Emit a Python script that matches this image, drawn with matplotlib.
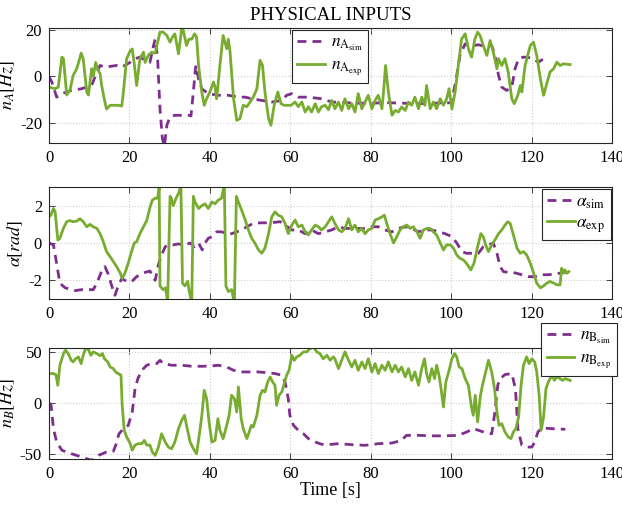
import matplotlib
matplotlib.use("Agg")
import matplotlib.pyplot as plt

plt.rcParams['font.family'] = ['Liberation Serif', 'DejaVu Serif']
plt.rcParams['mathtext.fontset'] = 'stix'
plt.rcParams['axes.unicode_minus'] = False

# ---- panel 1: n_A [Hz] ----
t_nA_sim = [0, 0.7, 1.9, 3.2, 5.6, 8.1, 10.6, 11.9, 12.7, 13.9, 16.8, 17.7, 18.9, 20.2, 21.4,
            22.6, 23.9, 25.1, 26.0, 26.4, 27.0, 27.6, 28.2, 28.7, 29.3, 30.1, 31.3, 33.0, 34.7,
            35.3, 35.9, 36.5, 37.2, 38.0, 39.6, 42.1, 44.6, 47.1, 48.8, 50.4, 52.9, 55.4, 57.9,
            59.1, 60.4, 62.0, 64.5, 67.8, 70.3, 73, 76, 80, 84, 88, 92, 96, 100.2, 100.6, 101.4,
            102.2, 103.5, 104.7, 106.8, 108.5, 110.1, 110.9, 111.8, 112.6, 113.8, 115.1, 115.9,
            116.8, 118.0, 120.1, 121.7, 123.0]
nA_sim = [0, -2.4, -8.9, -7.4, -6, -5.3, -3.9, 1.9, 4.7, 4, 4.7, 4, 4.7, 6.1, 7.6,
          8.3, 6.9, 6.1, 13.3, 16, 8, -14, -26.7, -30, -21, -17.4, -16.7, -16.7, -16.7,
          -17, -6.7, 4.7, -1, -5.3, -7.4, -8.1, -8.1, -8.9, -8.9, -9.6, -10.3, -11, -10.3,
          -8.1, -7.4, -8.9, -8.9, -9.6, -11, -11.2, -11.5, -11.5, -11.3, -11.5, -11.7, -11.5, -11.3, -7, 0.4,
          9, 14, 13, 13.6, 12.9, 13.3, 9, 0.4, -4.6, -6, -4.6, 3.3,
          7.6, 8.3, 8, 6.1, 7.6]

t_nA_exp = [0, 1.5, 2.3, 3.2, 3.6, 4.4, 5.2, 6, 6.9, 8, 8.5, 9.4, 9.8, 10.6, 11, 11.6, 12.1, 12.7,
            13.1, 13.9, 14.3, 15.2, 16, 17.2, 18.1, 18.5, 19.3, 20.2, 20.7, 21.2, 21.8, 22.6, 23.5,
            23.9, 24.7, 25.5, 26.4, 26.8, 27.6, 28.4, 29.3, 30.1, 30.7, 31.3, 32.2, 33, 33.4, 34.2,
            34.8, 35.5, 36.2, 36.7, 37.2, 38, 38.6, 39.2, 40, 40.9, 41.3, 41.7, 42.5, 43.3, 44.2,
            44.6, 45, 45.9, 46.7, 47.5, 48.3, 49.2, 50, 50.8, 51.7, 52.5, 53.1, 53.7, 54.6, 55.2,
            56, 56.9, 57.7, 58.5, 59.4, 60.2, 61.2, 62, 62.9, 63.7, 64.5, 65.3, 66.2, 67, 67.8,
            68.7, 69.5, 70.3, 71.1, 72, 72.8, 73.6, 74.5, 75.3, 76.1, 76.9, 77.8, 78.6, 79.4, 80.3,
            81.1, 81.9, 82.8, 83.2, 83.7, 84.4, 85.3, 86.1, 86.9, 87.7, 88.6, 89.4, 90.2, 91, 91.9,
            92.7, 93.5, 93.9, 94.8, 95.6, 96.4, 97.3, 98.1, 98.9, 99.5, 100.2, 101, 101.8, 102.6,
            103.5, 104.3, 105.1, 105.9, 106.6, 107.2, 108, 108.9, 109.7, 110.5, 111.4, 111.8, 112.6,
            113.4, 114.2, 115.1, 115.7, 116.6, 117.2, 117.6, 118.4, 119.7, 120.5, 121.3, 122.2, 123,
            123.8, 124.6, 125.5, 126.3, 127.1, 127.9, 129.6]
nA_exp = [-4.6, -5.3, -4.6, 8.3, 7.6, -8, -6, 0.4, 3.3, 10, 7.6, -6.7, -8, 3.3, 0, 6, 3.3, 1.1,
          -4, -11, -14, -12.4, -12.4, -12.4, -12.7, -6.7, 7.6, 11, 11.8, 5.4, -3.9, 7.6, 10.4,
          6, 9, 10.4, 10, 13, 19, 19, 17.6, 14.7, 16.9, 18.3, 9.7, 20.4, 19.7, 13.3,
          16, 16, 18.3, 16.9, 4.7, -6.7, -12.4, -9.6, -6.7, -2.4, -4.6, -9.6, 4.7, 17.6, 11.9,
          16, 11, -9.6, -18.9, -18.1, -12.4, -13, -11, -8.9, -5.3, 6.9, 4.7, -6.7, -18.1, -21,
          -12.4, -6.7, -11.7, -12.4, -12.4, -12.4, -11, -13, -11, -15.3, -13, -15.3, -11.7, -15.3, -13,
          -12.4, -14.3, -10.3, -13.9, -11, -14.6, -9.6, -13.9, -11.7, -15.3, -7.4, -13.9, -11, -8.1, -13.9,
          -10.3, -8.1, -13.9, -6.7, 4.7, -6.7, -16.7, -14.6, -15.3, -13.1, -14.6, -11, -12.4, -8.9, -13.9,
          -8.9, -12.4, -3.9, -13.9, -11, -13.9, -9.6, -12.4, -9.6, -5.3, -14, -6.7, 4.7, 16,
          18.3, 11.9, 8.3, 16, 19, 17.6, 13.3, 9, 15.4, 10.4, 3.3, 7.6, 4.7,
          7.6, 1.9, -9.6, -11.7, -8.1, -3.9, -6.7, 4.7, 13.3, 14.7, 9, -1, -8.1,
          -3.1, 1.9, 3.3, 6.1, 4.7, 5.4, 5.1]

# ---- panel 2: alpha [rad] ----
t_al_sim = [0, 1.1, 1.9, 2.7, 4, 6.5, 8.1, 9.8, 11, 11.9, 13.1, 13.9, 14.8, 15.6, 16.4, 17.2, 18.1,
            19.3, 20.6, 21.8, 23.5, 25.1, 26.4, 27.2, 28, 28.9, 29.7, 30.9, 32.2, 33.8, 35.1, 36.2,
            37.2, 38.1, 38.8, 39.6, 40.5, 41.7, 42.9, 44.2, 45.4, 46.7, 47.9, 49.2, 50.8, 52.5, 54.2,
            55.8, 57.5, 58.7, 60.4, 62, 63.7, 65.3, 67, 68.7, 70.3, 72, 73.6, 75.3, 76.9, 78.6, 80.3,
            81.9, 83.5, 85.3, 86.9, 88.6, 90.2, 91.9, 93.5, 95.2, 96.9, 98.5, 100.2, 101.4, 102.7,
            103.8, 105.5, 106.8, 108, 109.3, 110.5, 111.4, 112.2, 113, 114.3, 115.9, 117.6, 119.2,
            120.9, 122.6, 124.2, 125.9, 127.5, 129.2]
al_sim = [0, -0.1, -1.1, -2.15, -2.4, -2.55, -2.5, -2.5, -2.5, -2.15, -1.5, -1.26, -1.7, -2.3, -2.8, -2.3, -1.9,
          -2.06, -2.06, -1.8, -1.6, -1.5, -2.0, -1.17, -0.64, -0.2, -0.1, -0.1, -0.05, -0.1, 0, -0.2,
          0, -0.37, 0, 0.25, 0.34, 0.6, 0.6, 0.5, 0.5, 0.6, 0.7, 0.87, 1.05, 1.08, 1.08,
          1.1, 1.14, 0.96, 0.7, 0.7, 0.5, 0.7, 0.5, 0.6, 0.7, 0.87, 0.78, 0.78, 0.78, 0.78, 0.87,
          0.87, 0.7, 0.6, 0.78, 0.87, 0.78, 0.6, 0.7, 0.7, 0.6, 0.5, 0.34, 0, -0.46,
          -0.55, -0.55, -0.55, -0.2, -0.1, 0, -0.55, -1.26, -1.53, -1.58, -1.6, -1.7, -1.8,
          -1.8, -1.7, -1.7, -1.65, -1.6, -1.55]

t_al_exp = [0, 0.5, 1.1, 1.5, 2.2, 2.7, 3.6, 4.4, 5.2, 6, 6.9, 7.7, 8.5, 9.4, 10.2, 11, 11.9, 12.7,
            13.5, 14.3, 15.2, 16, 16.8, 17.7, 18.2, 18.9, 19.7, 20.4, 21.2, 21.8, 22.6, 23.5, 24.3,
            25.1, 25.7, 26.4, 27, 27.4, 27.6, 28.4, 29, 29.5, 30.1, 30.4, 30.9, 31.6, 32.3, 32.8,
            33.2, 33.8, 34.5, 34.8, 35.5, 35.9, 36.3, 37.2, 38, 38.8, 39.6, 40.5, 41.3, 42.1, 42.9,
            43.6, 44, 44.6, 45.4, 46.1, 46.6, 47.1, 47.9, 48.8, 49.6, 50.4, 51.2, 52.1, 52.9, 53.7,
            54.6, 55.4, 56.2, 57, 57.9, 58.7, 59.5, 60.4, 61.2, 62, 62.9, 63.7, 64.5, 65.3, 66.2,
            67, 67.8, 68.7, 69.5, 70.3, 71.1, 72, 72.8, 73.6, 74.5, 75.3, 76.1, 76.9, 77.8, 78.6,
            79.4, 80.3, 81.1, 81.9, 82.8, 83.4, 84, 84.8, 85.7, 86.5, 87.3, 88.1, 89, 89.8, 90.6,
            91.5, 92.3, 93.1, 94, 94.8, 95.6, 96.4, 97.3, 98.1, 98.9, 99.8, 100.6, 101.4, 102.2,
            103, 103.8, 104.9, 105.7, 106.6, 107.4, 108, 108.6, 109.3, 110.1, 110.9, 111.8, 112.6,
            113.4, 114.1, 114.7, 115.5, 116.4, 117.2, 118, 118.8, 119.7, 120.5, 121.3, 122.2, 123,
            123.8, 124.6, 125.5, 126.3, 127.1, 127.5, 127.9, 128.3, 128.8, 129.3]
al_exp = [1.4, 1.5, 1.85, 1.7, 0.16, 0.25, 0.8, 1.14, 1.2, 1.14, 1.17, 1.3, 1.14, 0.87, 1.0, 0.87, 0.78, 0.5,
          0.07, -0.46, -0.73, -1.0, -1.26, -1.6, -1.9, -1.6, -1.08, -0.55, 0, 0.07, 0.5, 0.87, 1.2,
          1.9, 2.3, 2.4, 2.4, 2.95, -2.3, -2.5, -2.4, -3.2, 2.5, 2.4, 2.0, 2.4, 2.7, 3.1,
          -2.15, -2.3, -2.05, -2.5, -3.2, 2.5, 2.2, 1.85, 2.0, 2.1, 1.85, 2.2, 2.1, 2.3, 2.4,
          3.1, -2.3, -2.6, -2.5, -3.2, 2.5, 2.2, 1.76, 1.23, 0.7, 0.25, 0, -0.37, -0.55, -0.28,
          0.5, 1.4, 1.67, 1.49, 1.4, 1.05, 0.5, 0.96, 1.23, 0.87, 0.96, 0.6, 0.43, 0.7, 0.96,
          0.87, 0.7, 0.87, 1.14, 1.4, 1.05, 0.7, 0.6, 0.78, 1.3, 0.7, 0.96, 0.6, 0.78, 0.5,
          0.7, 0.78, 1.23, 1.3, 1.4, 1.49, 1.05, 0.5, 0, 0.34, 0.7, 0.87, 0.96, 0.78, 0.87,
          0.6, 0.25, 0.7, 0.78, 0.78, 0.6, 0.43, 0, -0.37, -0.1, -0.1, -0.28, -0.64, -0.82,
          -0.9, -1.08, -1.44, -1.08, -0.2, 0.5, 0.34, -0.1, -0.46, -0.1, 0.16, 0.5, 0.7,
          0.96, 1.14, 1.05, 0.43, -0.28, -0.55, -0.46, -0.64, -1.08, -1.6, -2.15, -2.4, -2.3,
          -2.15, -2.06, -2.15, -2.24, -2.24, -1.35, -1.62, -1.44, -1.62, -1.53]

# ---- panel 3: n_B [Hz] ----
t_nB_sim = [0, 0.5, 1.1, 1.9, 3.2, 5.6, 8.1, 10.6, 12.3, 14.3, 16, 16.6, 17.4, 18.5, 19.7, 20.7, 21.4,
            22.1, 23.1, 24.3, 25.5, 26.8, 27.6, 28.4, 30.5, 33, 35.5, 38, 40.5, 42.1, 44.2, 45.9,
            47.9, 50, 52.1, 54.1, 56.2, 57.9, 58.7, 59.5, 59.9, 60.8, 62, 63.3, 64.5, 66.2, 67.8,
            69.5, 72, 75.3, 78.6, 81.9, 85.3, 87.7, 88.9, 91.9, 95.2, 98.5, 101.8, 103.9, 105.5,
            106.8, 108.5, 110.1, 110.9, 111.6, 112.2, 113.4, 115.1, 116, 116.6, 117.6, 118.9, 120.1,
            120.8, 121.6, 122.6, 125.1, 128.4]
nB_sim = [0, -1.6, -25, -38, -46, -49.4, -52.6, -55.8, -51, -47.7, -47, -41, -30, -25, -21.8, -8.8, 14,
          23.7, 31.8, 36.7, 38.3, 38.3, 41.5, 38.3, 36.7, 36.7, 35.7, 35.7, 36, 36.7, 35, 31.8,
          30.2, 30.2, 30.2, 29.5, 28.6, 27, 20.5, 4.2, -12, -21.8, -26.6, -30, -34.7, -38, -40.2,
          -40.5, -39.6, -40.6, -41.2, -39.6, -39, -36.4, -31.5, -31.5, -32, -32, -31.5, -28.2, -25,
          -26.6, -28.8, -30, -8.8, 17.2, 23.7, 27.6, 28.6, 14, -25, -41.2, -42.9, -42.9,
          -38, -28.2, -24.4, -25, -25.6]

t_nB_exp = [0, 1.1, 1.7, 2.2, 2.7, 3.6, 4.1, 4.8, 5.5, 6, 6.6, 7.3, 8, 8.5, 9.1, 9.8, 10.4, 11, 11.9,
            12.7, 13.3, 13.8, 14.6, 15.2, 16, 16.6, 17.2, 17.9, 18.2, 18.7, 19.3, 20.2, 20.7, 21.4,
            22.2, 23.1, 23.7, 24.3, 25.1, 25.7, 26.4, 27.2, 28, 28.9, 29.7, 30.5, 31.3, 32.2, 33,
            33.7, 34.2, 35.1, 35.9, 36.7, 37.6, 38.1, 38.6, 39.2, 39.8, 40.5, 41.3, 42, 42.5, 43.3,
            44.2, 44.8, 45.4, 46.1, 46.7, 47.1, 47.8, 48.3, 49.2, 49.8, 50.3, 50.8, 51.7, 52.5, 53.1,
            53.7, 54.4, 55, 55.6, 56.2, 56.6, 57.2, 57.9, 58.5, 59.1, 59.7, 60.4, 61, 61.6, 62.4,
            63.3, 64.1, 64.9, 65.8, 66.6, 67.4, 68.2, 69.1, 69.9, 70.7, 71.1, 72, 72.8, 73.6, 74.5,
            75.3, 76.1, 76.9, 77.8, 78.6, 79.4, 80.3, 81.1, 81.9, 82.8, 83.6, 84.4, 85.3, 86.1, 86.9,
            87.7, 88.6, 89.4, 90.2, 91, 91.9, 92.7, 93.4, 93.9, 94.5, 95.2, 95.9, 96.4, 97, 97.5,
            98.1, 98.7, 99.4, 100.2, 100.9, 101.4, 102, 102.7, 103.5, 104.3, 105, 105.5, 106, 106.6,
            107.3, 107.8, 108.5, 109.3, 110.1, 110.8, 111.4, 111.9, 112.6, 113.4, 114.2, 114.9,
            115.5, 116.1, 116.8, 117.4, 118, 118.8, 119.4, 120.1, 120.8, 121.3, 121.9, 122.4, 123,
            123.6, 124.2, 125.1, 125.7, 126.3, 127.1, 127.7, 128.4, 129.6]
nB_exp = [28.6, 28.6, 27.6, 17.2, 36.7, 48, 51.3, 48, 41.6, 40, 43, 44.8, 38.3, 46.4, 53, 52, 46.4, 49.7, 48,
          46, 48, 43, 40, 35, 33.4, 30, 28.6, 27, -2.3, -26.6, -33, -39.6, -46, -41,
          -39.6, -39.6, -36.4, -41, -41, -47.7, -51, -43, -30, -38, -43, -44.5, -38, -25, -16.9,
          -12, -21.8, -38, -44.5, -49.4, -25, -8.8, 12.3, 4.2, -18.5, -38, -36.4, -15.3, -26.6, -34.7,
          -21.8, -12, 7.5, 4.2, -8.8, 15.6, -15.3, -25, -34.7, -28.2, -21.8, -23.4, -12, 7.5, 12.3,
          10.7, 20.5, 25.3, 20.5, 17.2, -2.3, 7.5, 10.7, 18.8, 27, 31.8, 46.4, 41.5, 44.8, 46.4,
          49.7, 49.7, 52.9, 54.5, 49.7, 48, 43, 46.4, 41.6, 44.8, 43, 33.4, 41.6, 49.7, 41.6,
          35, 41.6, 31.8, 39.9, 33.4, 43, 30.2, 38.3, 28.6, 36.7, 31.8, 40, 30.2, 36.7, 30.2,
          35, 25.3, 33.4, 22, 30.2, 17.2, 33.4, 43, 28.6, 20.5, 33.4, 23.7, 36.7, 26.9, 14,
          -3.9, 20.5, 30.2, 43, 48, 44.8, 35, 33.4, 23.7, 17.2, -2.3, -12, 7.5, -18.5,
          7.5, 17.2, 28.6, 41.5, 30.2, 14, -8.8, -21.8, -20.2, -28.2, -33, -34.7,
          -28.2, -25, -13.6, 17.2, 36.7, 44.8, 38.3, 43, 39.9, 30.2, 7.5, -26.6, -13.6,
          14, 20.5, 27, 22, 25.3, 23.7, 22, 23.7, 22]

C_SIM = '#7E2F8E'
C_EXP = '#77AC30'
DASH = (3.2, 2.2)

fig = plt.figure(figsize=(6.22, 5.08), dpi=100)
ax1 = fig.add_axes([0.0788, 0.7185, 0.905, 0.2264])
ax2 = fig.add_axes([0.0788, 0.4114, 0.905, 0.2205])
ax3 = fig.add_axes([0.0788, 0.0965, 0.905, 0.2185])

panels = [
    (ax1, t_nA_sim, nA_sim, t_nA_exp, nA_exp, (-28.6, 20.8), [-20, 0, 20],
     r'$n_A[Hz]$', r'$n_{\mathrm{A}_{\mathrm{sim}}}$', r'$n_{\mathrm{A}_{\mathrm{exp}}}$'),
    (ax2, t_al_sim, al_sim, t_al_exp, al_exp, (-3, 3), [-2, 0, 2],
     r'$\alpha[rad]$', r'$\alpha_{\mathrm{sim}}$', r'$\alpha_{\mathrm{exp}}$'),
    (ax3, t_nB_sim, nB_sim, t_nB_exp, nB_exp, (-54.5, 53.5), [-50, 0, 50],
     r'$n_B[Hz]$', r'$n_{\mathrm{B}_{\mathrm{sim}}}$', r'$n_{\mathrm{B}_{\mathrm{exp}}}$'),
]

for ax, ts, ys, te, ye, ylim, yt, ylab, lsim, lexp in panels:
    ax.plot(ts, ys, color=C_SIM, lw=2.0, dashes=DASH, label=lsim)
    ax.plot(te, ye, color=C_EXP, lw=2.0, label=lexp)
    ax.set_xlim(0, 140)
    ax.set_ylim(*ylim)
    ax.set_xticks(range(0, 141, 20))
    ax.set_yticks(yt)
    ax.set_ylabel(ylab, fontsize=13, labelpad=2)
    ax.grid(True, color='#cfcfcf', linestyle=':', linewidth=0.8)
    ax.tick_params(direction='in', top=True, right=True, labelsize=12, length=4,
                   width=0.6, color='#262626', pad=5)
    for s in ax.spines.values():
        s.set_color('#262626')
        s.set_linewidth(0.8)

leg_kw = dict(fontsize=12.5, frameon=True, fancybox=False, edgecolor='#262626',
              framealpha=1, borderaxespad=0, labelspacing=0.25, borderpad=0.3,
              handlelength=1.6, handletextpad=0.35)
l1 = ax1.legend(loc='upper left', bbox_to_anchor=(0.4316, 0.983), **leg_kw)
l2 = ax2.legend(loc='upper right', bbox_to_anchor=(0.998, 0.982),
                **{**leg_kw, 'handletextpad': 0.1})
l3 = ax3.legend(loc='upper right', bbox_to_anchor=(1.009, 1.225), **leg_kw)
for lg in (l1, l2, l3):
    lg.get_frame().set_linewidth(0.8)

ax1.set_title('PHYSICAL INPUTS', fontsize=13.5, pad=6)
ax3.set_xlabel('Time [s]', fontsize=13, labelpad=0)

fig.savefig('out.png', dpi=100)
